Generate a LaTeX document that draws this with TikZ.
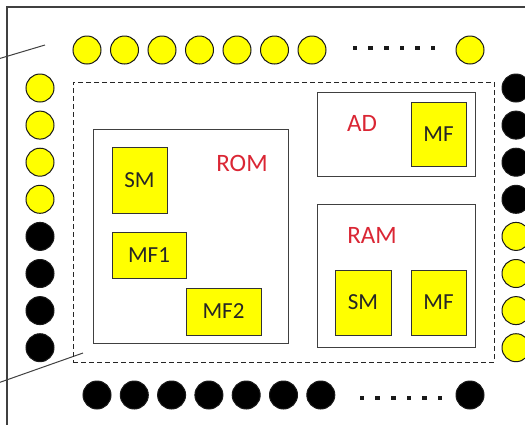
\documentclass[tikz,border=0pt]{standalone}
\usepackage{fontspec}
\setmainfont{Carlito}
\definecolor{pinyellow}{RGB}{255,255,0}
\definecolor{labelred}{RGB}{218,38,52}
\tikzset{
  pin/.style={circle,draw=black!90,line width=1pt,minimum size=28pt,inner sep=0pt},
  hipin/.style={pin,fill=pinyellow},
  lopin/.style={pin,fill=black},
  block/.style={draw=black!75,line width=1pt,inner sep=0pt},
  cell/.style={rectangle,draw=black!80,fill=pinyellow,line width=1pt,inner sep=0pt,
    text=black!85,font=\fontsize{23}{23}\selectfont},
  tag/.style={text=labelred,font=\fontsize{25}{25}\selectfont},
  dot/.style={fill=black!90}
}
\begin{document}
\begin{tikzpicture}[x=1pt,y=-1pt]
\useasboundingbox (0,0) rectangle (525,424);
\clip (0,0) rectangle (525,424);
% outer frame and leader lines
\draw[black!75,line width=1.5pt] (7,7) rectangle (560,460);
\coordinate (topfree) at (-2,59);
\coordinate (topend) at (45,45);
\coordinate (botfree) at (-2,383);
\coordinate (botend) at (83,353);
\draw[black!75,line width=1pt] (topfree) -- (topend);
\draw[black!75,line width=1pt] (botfree) -- (botend);
% pins
\foreach \i in {1,...,7}
  \node[hipin] (top\i) at ({87+37.5*(\i-1)},50) {};
\node[hipin] (top8) at (470,50) {};
\foreach \i in {1,...,7}
  \node[lopin] (bot\i) at ({97+37.3*(\i-1)},395) {};
\node[lopin] (bot8) at (470,395) {};
\foreach \i in {1,...,4} {
  \node[hipin] (left\i) at (40,{88+37.1*(\i-1)}) {};
  \node[lopin] (right\i) at (516,{88+37.1*(\i-1)}) {};
}
\foreach \i in {5,...,8} {
  \node[lopin] (left\i) at (40,{88+37.1*(\i-1)}) {};
  \node[hipin] (right\i) at (516,{88+37.1*(\i-1)}) {};
}
\foreach \k in {0,...,5} {
  \fill[dot] ({355+15.6*\k-2.3},45.7) rectangle ++(4.6,4.6);
  \fill[dot] ({362+15.6*\k-2.3},395.7) rectangle ++(4.6,4.6);
}
% die
\node[block,draw=black!85,dash pattern=on 5pt off 3pt,minimum width=421pt,minimum height=280pt] (die) at (283.5,222) {};
\node[block,minimum width=195pt,minimum height=214pt] (rom) at (190.5,236) {};
\node[block,minimum width=158pt,minimum height=84pt] (ad) at (396,134) {};
\node[block,minimum width=158pt,minimum height=143pt] (ram) at (396,275.5) {};
\node[tag] (romtag) at (242,163) {ROM};
\node[tag] (adtag) at (362,123) {AD};
\node[tag] (ramtag) at (372,235) {RAM};
% cells
\node[cell,minimum width=55pt,minimum height=66pt] (romsm) at (139.5,180) {SM};
\node[cell,minimum width=74pt,minimum height=46pt] (rommf1) at (149,255) {MF1};
\node[cell,minimum width=75pt,minimum height=47pt] (rommf2) at (223.5,311.5) {MF2};
\node[cell,minimum width=55pt,minimum height=64pt] (admf) at (438.5,134) {MF};
\node[cell,minimum width=56pt,minimum height=65pt] (ramsm) at (363,302.5) {SM};
\node[cell,minimum width=55pt,minimum height=65pt] (rammf) at (438.5,302.5) {MF};
\end{tikzpicture}
\end{document}
